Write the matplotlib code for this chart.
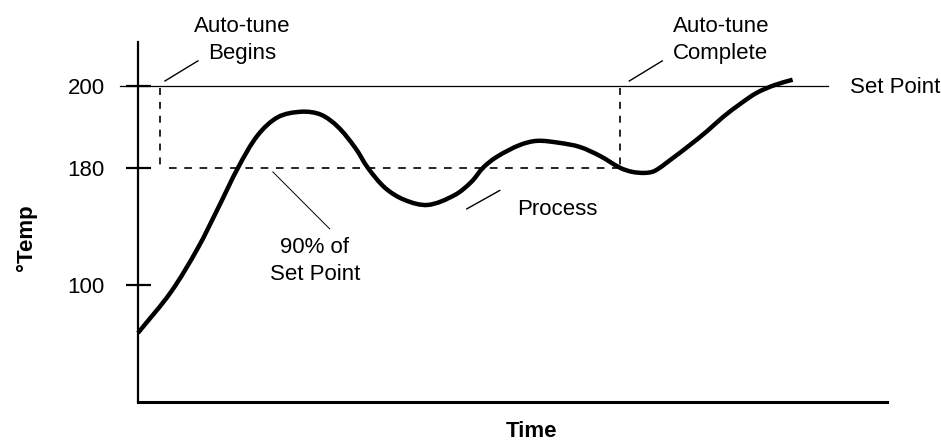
import numpy as np
import matplotlib
matplotlib.use("Agg")
import matplotlib.pyplot as plt
from matplotlib.path import Path
from matplotlib.patches import PathPatch

plt.rcParams['font.family'] = ['Liberation Sans', 'DejaVu Sans']
plt.rcParams['lines.scale_dashes'] = False

# ---- data (schematic auto-tune response) ----
time = [0, 4.4, 8.0, 10.7, 13.4, 16.0, 18.7, 21.8, 24.4, 26.7, 29.0, 30.7, 33.0,
        35.6, 38.7, 42.3, 44.5, 46.1, 47.9, 51.0, 53.3, 56.3, 59.0, 61.7, 64.4,
        66.0, 67.7, 69.0, 71.4, 73.7, 76.0, 78.1, 80.4, 82.6, 85.0, 87.4]
temp = [67.2, 95.2, 125.3, 152.6, 180.2, 188.0, 192.4, 193.7, 193.0, 190.0, 184.9,
        180, 166.3, 158.1, 154.7, 161.5, 170.4, 180.1, 182.7, 185.6, 186.6, 186.1,
        185.1, 182.9, 180, 177.3, 176.6, 178, 182.4, 185.6, 189.0, 192.4, 195.6,
        198.3, 200.2, 201.5]

set_point = 200
pct90 = 180
tune_start = 2.9
tune_end = 64.4
yticks = [100, 180, 200]
ytick_labels = ["100", "180", "200"]

# broken (schematic) temperature scale
t_pts = [-60, 20, 100, 180, 200, 260]
p_pts = [-117, 0, 117, 234, 316, 562]


def fwd(v):
    return np.interp(v, t_pts, p_pts)


def inv(v):
    return np.interp(v, p_pts, t_pts)


def smooth_path(xv, yv, xscale=7.49):
    # chord-length Catmull-Rom through the points in scaled space -> bezier segments
    P = np.column_stack([np.asarray(xv, float) * xscale, fwd(np.asarray(yv, float))])
    n = len(P)
    d = np.linalg.norm(np.diff(P, axis=0), axis=1)
    tang = np.zeros_like(P)
    tang[0] = (P[1] - P[0]) / d[0]
    tang[-1] = (P[-1] - P[-2]) / d[-1]
    for i in range(1, n - 1):
        tang[i] = (P[i + 1] - P[i - 1]) / (d[i - 1] + d[i])
    verts = [P[0]]
    codes = [Path.MOVETO]
    for i in range(n - 1):
        c1 = P[i] + tang[i] * d[i] / 3.0
        c2 = P[i + 1] - tang[i + 1] * d[i] / 3.0
        verts += [c1, c2, P[i + 1]]
        codes += [Path.CURVE4] * 3
    verts = np.array(verts)
    verts[:, 0] = verts[:, 0] / xscale
    verts[:, 1] = inv(verts[:, 1])
    return Path(verts, codes)


fig = plt.figure(figsize=(9.41, 4.41), dpi=100)
ax = fig.add_axes([138 / 941, 39 / 441, 749 / 941, 360 / 441])
ax.set_yscale('function', functions=(fwd, inv))
ax.set_xlim(0, 100)
ax.set_ylim(20, 210.7)

# process curve
curve = PathPatch(smooth_path(time, temp), facecolor='none', edgecolor='black',
                  lw=3.2, capstyle='butt', joinstyle='round', clip_on=False)
ax.add_patch(curve)

# set point line
ax.plot([-2.4, 92.1], [set_point, set_point], color='black', lw=0.9, clip_on=False)

# 90% line and auto-tune markers
ax.plot([4.1, tune_end], [pct90, pct90], color='black', lw=1.2, dashes=(5.5, 5.5))
ax.plot([tune_start, tune_start], [199.5, pct90], color='black', lw=1.2, dashes=(5, 5))
ax.plot([tune_end, tune_end], [199.5, pct90], color='black', lw=1.2, dashes=(5, 5))

# leader lines
ax.plot([3.6, 8.0], [201.2, 206.1], color='black', lw=1.0, clip_on=False)
ax.plot([65.6, 70.0], [201.2, 206.1], color='black', lw=1.0, clip_on=False)
ax.plot([18.0, 25.6], [177.3, 138.3], color='black', lw=0.7)
ax.plot([43.9, 48.3], [152.0, 164.6], color='black', lw=1.0)

# labels
fs = 16
ax.text(13.9, 211.2, "Auto-tune\nBegins", ha='center', va='center', fontsize=fs,
        linespacing=1.4, clip_on=False)
ax.text(77.8, 211.2, "Auto-tune\nComplete", ha='center', va='center', fontsize=fs,
        linespacing=1.4, clip_on=False)
ax.text(95.1, 199.7, "Set Point", ha='left', va='center', fontsize=fs, clip_on=False)
ax.text(23.6, 116.4, "90% of\nSet Point", ha='center', va='center', fontsize=fs,
        linespacing=1.4)
ax.text(50.6, 151.3, "Process", ha='left', va='center', fontsize=fs)

# axes styling
for s in ['top', 'right']:
    ax.spines[s].set_visible(False)
ax.spines['left'].set_linewidth(1.6)
ax.spines['bottom'].set_linewidth(2.2)
ax.set_xticks([])
ax.set_yticks(yticks)
ax.set_yticklabels(ytick_labels, fontsize=fs)
ax.tick_params(axis='y', direction='inout', length=18, width=1.6, pad=15)

ax.set_xlabel("Time", fontsize=16, fontweight='bold')
ax.set_ylabel("°Temp", fontsize=16, fontweight='bold')
ax.xaxis.set_label_coords(0.525, -0.053)
ax.yaxis.set_label_coords(-0.135, 0.456)

fig.savefig("out.png", dpi=100)
